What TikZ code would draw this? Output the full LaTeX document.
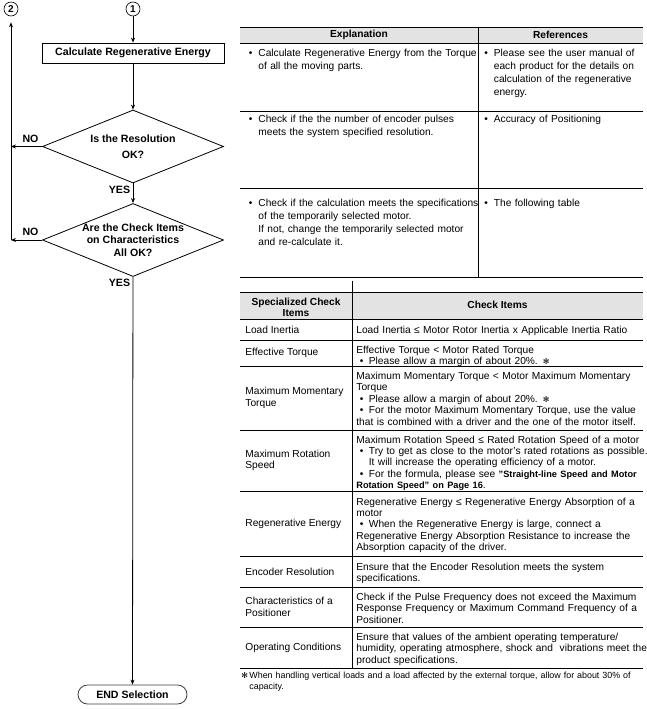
\documentclass[tikz,border=0pt]{standalone}
\usepackage{fontspec}
\setmainfont{Liberation Sans}
\newfontfamily\symfont{DejaVu Sans}
\usetikzlibrary{arrows.meta,positioning,shapes.geometric}

\newcommand{\bul}{\llap{\makebox[9.5pt][l]{•}}}
\newcommand{\sbul}{\par\hangindent=12.5pt\hangafter=1\hspace*{3.5pt}\makebox[9pt][l]{•}}
\newcommand{\starmark}{{\symfont\fontsize{8}{10}\selectfont ✻}}

\begin{document}
\begin{tikzpicture}[x=1pt, y=-1pt, line width=0.8pt,
  font=\fontsize{10.2}{13}\selectfont,
  box/.style={draw, minimum width=182pt, minimum height=20pt, inner sep=0pt, font=\fontsize{10.6}{13}\selectfont\bfseries},
  dec/.style={draw, diamond, minimum width=181pt, minimum height=73pt, inner sep=0pt},
  con/.style={draw, circle, minimum size=14pt, inner sep=0pt, line width=0.6pt, font=\fontsize{10}{12}\selectfont\bfseries},
  lbl/.style={inner sep=0pt, font=\fontsize{10.6}{12.7}\selectfont\bfseries},
  arr/.style={-{Stealth[length=5pt,width=4pt]}},
  hd/.style={inner sep=0pt, align=center, font=\fontsize{10.2}{11.5}\selectfont\bfseries},
  cell/.style={anchor=base west, inner sep=0pt, align=left, text width=#1},
  tcell/.style={cell=#1, font=\fontsize{10.2}{11.4}\selectfont},
  lcell/.style={anchor=west, inner sep=0pt, align=left, font=\fontsize{10.2}{11.4}\selectfont}]
\path[fill=white, use as bounding box] (0,0) rectangle (647,709);

% flow chart
\node[con] (c1) at (133,9) {1};
\node[con] (c2) at (11,9) {2};
\node[box] (calc) at (133,53) {Calculate Regenerative Energy};
\node[dec, label={[lbl,align=center]center:Is the Resolution\\[2.9pt]OK?}] (d1) at (133,146.5) {};
\node[dec, label={[lbl,align=center]center:Are the Check Items\\on Characteristics\\All OK?}] (d2) at (133,240) {};
\node[draw=black!75, rounded corners=9.5pt, minimum width=109pt, minimum height=19pt, inner sep=0pt,
  font=\fontsize{10.6}{13}\selectfont\bfseries] (fin) at (132.5,694.5) {END Selection};
\node[lbl] (no1) at (30.5,138.5) {NO};
\node[lbl] (no2) at (30.5,231.5) {NO};
\node[lbl] (yes1) at (119.5,190) {YES};
\node[lbl] (yes2) at (119.5,283) {YES};
\coordinate (j1) at (11,146.5);
\coordinate (j2) at (11,240);

\foreach \a/\b in {c1/calc,calc/d1,d1/d2,d2/fin,d1/j1,d2/j2} \draw[arr] (\a) -- (\b);
\draw[arr, shorten >=6pt] (j2) -- (c2);

% explanation table
\fill[gray!22] (240,27) rectangle (643,43);
\foreach \y in {27,43,111,188,277} \draw (240,\y) -- (643,\y);
\draw (478,27) -- (478,277);
\node[hd] (hexp) at (359,35) {Explanation};
\node[hd] (href) at (560.5,35) {References};

\node[cell=250pt] (e1) at (258,56.5) {\bul Calculate Regenerative Energy from the Torque\newline of all the moving parts.};
\node[cell=160pt] (r1) at (493.5,56.5) {\bul Please see the user manual of\newline each product for the details on\newline calculation of the regenerative\newline energy.};
\node[cell=250pt] (e2) at (258,122.8) {\bul Check if the the number of encoder pulses\newline meets the system specified resolution.};
\node[cell=160pt] (r2) at (493.5,122.8) {\bul Accuracy of Positioning};
\node[cell=250pt] (e3) at (258,206.2) {\bul Check if the calculation meets the specifications\newline of the temporarily selected motor.\newline If not, change the temporarily selected motor\newline and re-calculate it.};
\node[cell=160pt] (r3) at (493.5,206.2) {\bul The following table};

% check items table
\fill[gray!22] (240,292) rectangle (643,319);
\foreach \y in {292,319,340,366,430,491,556,587,627,668} \draw (240,\y) -- (643,\y);
\draw (352,281) -- (352,668);
\node[hd] (hspc) at (296,307.5) {Specialized Check\\Items};
\node[hd] (hchk) at (497.5,305) {Check Items};

\node[lcell] (k1) at (245,329.5) {Load Inertia};
\node[lcell] (k2) at (245,353) {Effective Torque};
\node[lcell] (k3) at (245,398) {Maximum Momentary\\Torque};
\node[lcell] (k4) at (245,460.5) {Maximum Rotation\\Speed};
\node[lcell] (k5) at (245,523.5) {Regenerative Energy};
\node[lcell] (k6) at (245,571.5) {Encoder Resolution};
\node[lcell] (k7) at (245,607) {Characteristics of a\\Positioner};
\node[lcell] (k8) at (245,647.5) {Operating Conditions};

\node[tcell=310pt] (i1) at (356,333.5) {Load Inertia ≤ Motor Rotor Inertia x Applicable Inertia Ratio};
\node[tcell=310pt] (i2) at (356,353.5) {Effective Torque < Motor Rated Torque\sbul Please allow a margin of about 20\%. \starmark};
\node[tcell=310pt] (i3) at (356,379.5) {Maximum Momentary Torque < Motor Maximum Momentary\newline Torque\sbul Please allow a margin of about 20\%. \starmark\sbul For the motor Maximum Momentary Torque, use the value\newline that is combined with a driver and the one of the motor itself.};
\node[tcell=310pt] (i4) at (356,443) {Maximum Rotation Speed ≤ Rated Rotation Speed of a motor\sbul Try to get as close to the motor's rated rotations as possible.\newline It will increase the operating efficiency of a motor.\sbul For the formula, please see {\fontsize{9.2}{11.4}\selectfont\bfseries"Straight-line Speed and Motor\newline Rotation Speed" on Page 16}.};
\node[tcell=310pt] (i5) at (356,505) {Regenerative Energy ≤ Regenerative Energy Absorption of a\newline motor\sbul When the Regenerative Energy is large, connect a\newline Regenerative Energy Absorption Resistance to increase the\newline Absorption capacity of the driver.};
\node[tcell=310pt] (i6) at (356,570) {Ensure that the Encoder Resolution meets the system\newline specifications.};
\node[tcell=310pt] (i7) at (356,600.5) {Check if the Pulse Frequency does not exceed the Maximum\newline Response Frequency or Maximum Command Frequency of a\newline Positioner.};
\node[tcell=310pt] (i8) at (356,640.5) {Ensure that values of the ambient operating temperature/\newline humidity, operating atmosphere, shock and \ vibrations meet the\newline product specifications.};

\node[cell=410pt, font=\fontsize{8.9}{10.7}\selectfont] (note) at (249,678.5) {\llap{\makebox[8pt][l]{\starmark}}When handling vertical loads and a load affected by the external torque, allow for about 30\% of\newline capacity.};
\end{tikzpicture}
\end{document}
